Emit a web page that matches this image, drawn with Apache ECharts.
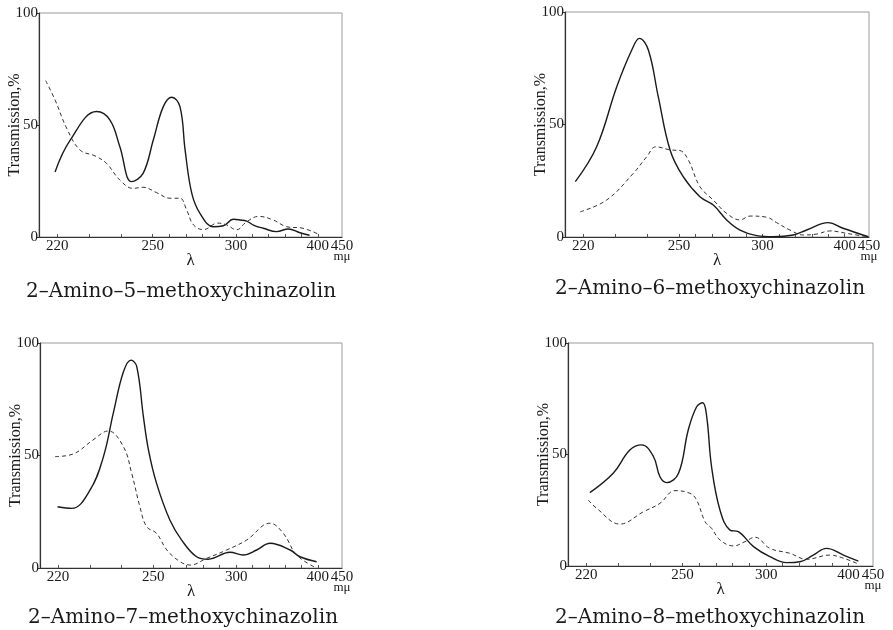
<!DOCTYPE html>
<html>
<head>
<meta charset="utf-8">
<script src="https://cdn.jsdelivr.net/npm/echarts@6/dist/echarts.min.js"></script>
<style>
  html, body { margin: 0; padding: 0; background: #fff; }
  #chart { width: 893px; height: 630px; }
</style>
</head>
<body>
<div id="chart"></div>
<script>
// wavelength axis of the instrument is not linear: anchor wavelengths and their axis position (0..100)
const lambdaAnchors = [214, 220, 250, 300, 400, 450]
const posAnchors = [0, 6, 37.5, 65, 92, 100]
const tickLabels = [220, 250, 300, 400, 450]
const minorTicks = [220, 230, 240, 250, 260, 270, 280, 290, 300, 320, 340, 360, 380, 400]
const titles = [
  '2–Amino–5–methoxychinazolin',
  '2–Amino–6–methoxychinazolin',
  '2–Amino–7–methoxychinazolin',
  '2–Amino–8–methoxychinazolin'
]

// [wavelength mμ, transmission %]
const p5Solid = [[219.3, 29], [224, 43], [232.4, 56], [236.6, 52.2], [239.7, 40.3], [243.4, 24.7], [247, 28.4], [250.4, 43.3], [256.4, 58.2], [261.5, 62.4], [266.4, 58.2], [269.5, 38.8], [273.5, 19.5], [278.4, 10.6], [286.4, 4.6], [292.4, 5], [298.4, 7.9], [305, 7.6], [313, 7.1], [322, 5.2], [333.4, 3.9], [349.7, 2.4], [364, 3.6], [378.3, 1.9], [390, 0.8]]
const p5Dashed = [[216.2, 69.8], [219.3, 61.2], [223, 48.5], [227.2, 38.8], [231.9, 36.2], [235.5, 32.9], [239.7, 25.4], [243.9, 21.7], [247, 22.2], [252.4, 19.8], [260.4, 17.3], [266.4, 17.3], [270.4, 12.1], [274.5, 5.4], [280.5, 3.3], [289, 6.2], [294.4, 5.4], [300.7, 3.2], [313, 6.8], [328, 9.2], [345.5, 7.6], [361.8, 4.6], [382, 3.9], [401, 1.3]]

const p6Solid = [[217.4, 24.6], [224.2, 40.1], [230.5, 66.8], [235.2, 83.1], [237.6, 88.3], [240.4, 83.1], [243.5, 62.4], [247.2, 38.7], [252.5, 26.8], [262.5, 17.9], [270.5, 14.2], [278.5, 7.6], [286.5, 3.1], [296.5, 0.6], [313, 0.1], [337.4, 0.9], [353.6, 3.1], [380, 6.4], [398, 3.9], [448.7, 0.1]]
const p6Dashed = [[219, 11.2], [227.3, 16.4], [235.7, 28.3], [239.9, 35.7], [242.8, 40.1], [247.2, 38.7], [250.6, 38.4], [255.6, 34.2], [262.5, 22.4], [270.5, 16.4], [278.5, 10.5], [286.5, 7.6], [292.5, 9.3], [305, 8.8], [317, 6.4], [333.3, 3.1], [349.6, 0.9], [365.9, 1.3], [382, 2.7], [404.4, 1.6], [448.7, 0]]

const p7Solid = [[219.8, 27.2], [224.3, 26.5], [230.1, 34.7], [234.3, 49.5], [237.4, 68.8], [240.6, 87.2], [243, 92.4], [244.8, 89.5], [246.9, 67.2], [248.5, 52.4], [252, 37.6], [260, 21.3], [267.1, 12.4], [276.1, 5], [283.1, 3.9], [296.2, 7], [308.5, 5.8], [325, 8], [341.4, 11], [366, 8], [378, 5], [398.5, 2.8]]
const p7Dashed = [[219, 49.5], [224.8, 50.7], [231, 56.9], [235.8, 60.9], [240.6, 53.9], [243.2, 42.1], [245.8, 27.2], [247.9, 18.4], [252, 15.4], [258.2, 8], [266.2, 2.8], [272.2, 1.3], [282.2, 4.3], [294.2, 8], [312.6, 12.4], [341.4, 19.9], [357.7, 15.4], [374, 5.8], [396.7, 0.3]]

const p8Solid = [[221.1, 32.9], [228.4, 41.6], [233.6, 52], [237.3, 54.3], [241, 49], [243, 40], [245.1, 37.4], [248.8, 41.6], [253.5, 61], [258.5, 71.4], [262.1, 73.2], [264.5, 67], [267.4, 44.5], [272.4, 25.1], [278.4, 16.1], [283.3, 15.4], [292.4, 8.7], [304.4, 4.2], [324.8, 1.5], [341, 1.9], [357, 4.9], [373.3, 7.9], [393.7, 4.9], [420, 2.2]]
const p8Dashed = [[220.6, 29.6], [223.2, 25.9], [230.5, 18.8], [237.8, 24.3], [243, 28.1], [247.7, 33.8], [254.5, 32.6], [258.5, 29.6], [263.5, 19.9], [267.4, 16.9], [272.4, 11.7], [280.4, 9], [287.3, 10.9], [293.3, 12.9], [304.4, 7.9], [328.6, 5.7], [349, 3], [377, 4.9], [393.7, 3.5], [420, 0.9]]

const panels = [
  { grid: { left: 39, top: 13, width: 303, height: 224 }, solid: p5Solid, dashed: p5Dashed, title: [181, 292] },
  { grid: { left: 565, top: 12, width: 304, height: 225 }, solid: p6Solid, dashed: p6Dashed, title: [710, 289] },
  { grid: { left: 40, top: 343, width: 302, height: 225 }, solid: p7Solid, dashed: p7Dashed, title: [183, 618] },
  { grid: { left: 568, top: 343, width: 305, height: 223 }, solid: p8Solid, dashed: p8Dashed, title: [710, 618] }
]

function toPos(l) {
  let i = 1
  while (i < lambdaAnchors.length - 1 && l > lambdaAnchors[i]) i++
  const l0 = lambdaAnchors[i - 1], l1 = lambdaAnchors[i]
  const p0 = posAnchors[i - 1], p1 = posAnchors[i]
  return p0 + (l - l0) * (p1 - p0) / (l1 - l0)
}

const serif = 'Liberation Serif'
const ink = '#1a1a1a'

const option = {
  backgroundColor: '#fff',
  animation: false,
  grid: [],
  xAxis: [],
  yAxis: [],
  series: [],
  graphic: []
}

panels.forEach((p, i) => {
  option.grid.push(Object.assign({ show: true, borderColor: '#9a9a9a', borderWidth: 1 }, p.grid))
  option.xAxis.push({
    gridIndex: i,
    type: 'value',
    min: 0,
    max: 100,
    name: 'λ',
    nameLocation: 'middle',
    nameGap: 15,
    nameMoveOverlap: false,
    nameTextStyle: { fontFamily: serif, fontSize: 17, color: ink },
    axisLine: { lineStyle: { color: '#333', width: 1.2 } },
    axisTick: { show: true, inside: true, length: 3, customValues: minorTicks.map(toPos), lineStyle: { color: '#555' } },
    axisLabel: {
      customValues: tickLabels.map(toPos),
      margin: 3,
      fontFamily: serif,
      fontSize: 15,
      color: ink,
      formatter: v => {
        const k = tickLabels.findIndex(t => Math.abs(toPos(t) - v) < 0.01)
        const t = tickLabels[k]
        if (t === 450) return '{n|450}\n{u|mμ}'
        return '{n|' + t + '}'
      },
      rich: {
        n: { fontFamily: serif, fontSize: 15, color: ink, lineHeight: 12 },
        u: { fontFamily: serif, fontSize: 13, color: ink, lineHeight: 10 }
      }
    },
    splitLine: { show: false }
  })
  option.yAxis.push({
    gridIndex: i,
    type: 'value',
    min: 0,
    max: 100,
    interval: 50,
    name: 'Transmission,%',
    nameLocation: 'middle',
    nameGap: 16,
    nameMoveOverlap: false,
    nameTextStyle: { fontFamily: serif, fontSize: 16, color: ink },
    axisLine: { show: true, lineStyle: { color: '#333', width: 1.2 } },
    axisTick: { show: true, length: 2, lineStyle: { color: '#333' } },
    axisLabel: { margin: 1, fontFamily: serif, fontSize: 15, color: ink },
    splitLine: { show: false }
  })
  option.series.push({
    type: 'line',
    xAxisIndex: i,
    yAxisIndex: i,
    smooth: 0.4,
    showSymbol: false,
    lineStyle: { color: ink, width: 1.4 },
    data: p.solid.map(d => [toPos(d[0]), d[1]])
  })
  option.series.push({
    type: 'line',
    xAxisIndex: i,
    yAxisIndex: i,
    smooth: 0.4,
    showSymbol: false,
    lineStyle: { color: '#333', width: 1, type: [4, 3] },
    data: p.dashed.map(d => [toPos(d[0]), d[1]])
  })
  option.graphic.push({
    type: 'text',
    x: p.title[0],
    y: p.title[1],
    style: {
      text: titles[i],
      fontFamily: 'DejaVu Serif',
      fontSize: 20,
      fill: ink,
      textAlign: 'center',
      textVerticalAlign: 'middle'
    }
  })
})

const chart = echarts.init(document.getElementById('chart'))
chart.setOption(option)
</script>
</body>
</html>
